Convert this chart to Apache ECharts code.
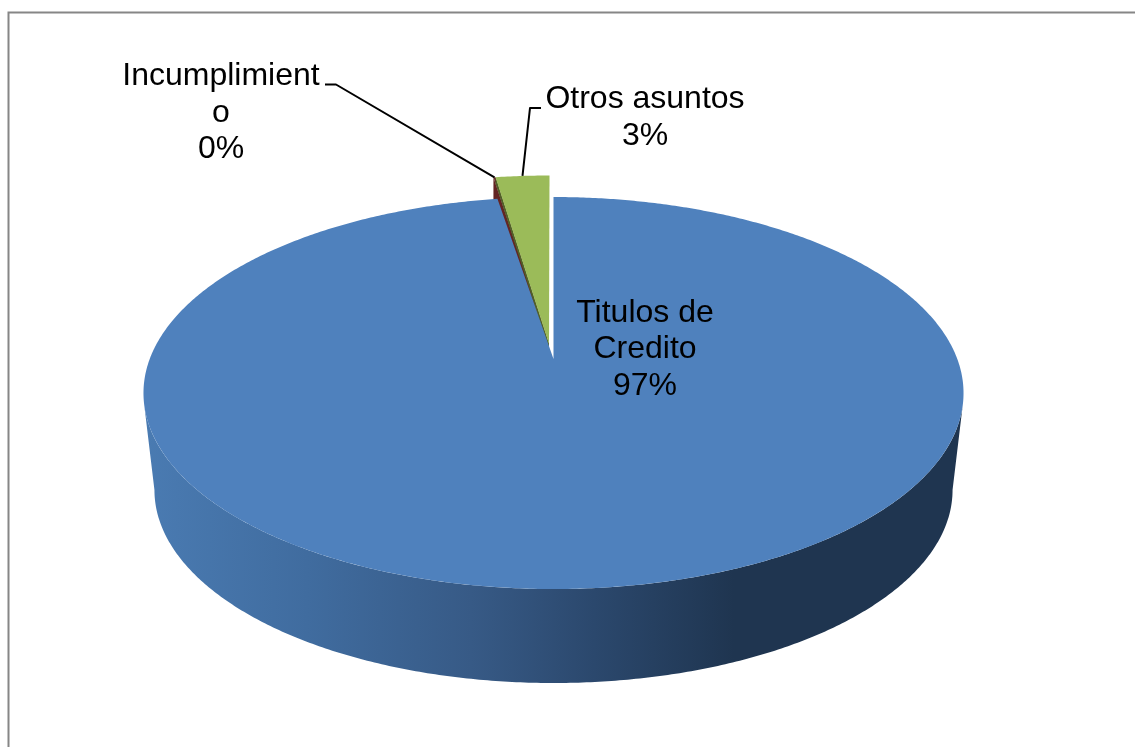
<!DOCTYPE html>
<html><head><meta charset="utf-8">
<style>html,body{margin:0;padding:0;background:#fff;overflow:hidden}#c{width:1135px;height:747px}</style>
<script src="https://cdn.jsdelivr.net/npm/echarts@6/dist/echarts.min.js"></script>
</head><body><div id="c"></div>
<script>
const categories = ['Titulos de\nCredito', 'Incumplimient\no', 'Otros asuntos'];
const values = [97.4, 0.1, 2.5];
const colors = ['#4f81bd', '#632523', '#9bbb59'];
const sideColors = ['#1f3550', '#632523', '#4f6228'];

const k = 0.1736;
const topRing = {cx: 553.5, ay: 359, A: 403.8, B: 190.1};
const botRing = {cx: 553.5, ay: 456.5, A: 393, B: 187.2};
function project(ring, deg) {
  const t = deg * Math.PI / 180, u = Math.sin(t), v = -Math.cos(t), w = 1 - k * v;
  return [ring.cx + ring.A * u / w, ring.ay + ring.B * v / w];
}
function arc(ring, a, b, off) {
  const pts = [], n = Math.max(2, Math.ceil(Math.abs(b - a) / 0.5));
  for (let i = 0; i <= n; i++) {
    const p = project(ring, a + (b - a) * i / n);
    pts.push(off ? [p[0] + off[0], p[1] + off[1]] : p);
  }
  return pts;
}
const total = values.reduce((s, v) => s + v, 0);
const starts = values.map((v, i) => values.slice(0, i).reduce((s, x) => s + x, 0) / total * 360);
const off = [-4, -21.5];
const exApex = [549, 344];
const labelPos = [[645, 349.5], [221, 113], [645, 117.5]];
const knees = [null, [[325, 84.5], [336, 84.5]], [[541, 108], [530, 108]]];

function renderItem(params, api) {
  const i = params.dataIndex, val = api.value(0);
  const a0 = starts[i], a1 = a0 + val / total * 360, mid = (a0 + a1) / 2;
  const kids = [];
  if (i === 0) {
    const wall = arc(botRing, 100, 260).concat(arc(topRing, 257, 103));
    kids.push({type: 'polygon', z2: 1, shape: {points: wall}, style: {
      fill: new echarts.graphic.LinearGradient(143, 0, 964, 0, [
        {offset: 0, color: '#4a7bb2'}, {offset: 0.2, color: '#406c9f'},
        {offset: 0.4, color: '#375a86'}, {offset: 0.55, color: '#2b486d'},
        {offset: 0.72, color: '#1f3550'}, {offset: 1, color: '#1f3550'}], true)}});
    kids.push({type: 'polygon', z2: 6, shape: {points: [[topRing.cx, topRing.ay]].concat(arc(topRing, a0, a1))},
      style: {fill: colors[0]}});
  } else {
    const outer = arc(topRing, a0, a1, off);
    const left = outer[0], d = i === 1 ? 26 : 6;
    kids.push({type: 'polygon', z2: i === 1 ? 2 : 3, shape: {points: [exApex, left, [left[0], left[1] + d], [exApex[0], exApex[1] + d]]},
      style: {fill: sideColors[i]}});
    kids.push({type: 'polygon', z2: i === 1 ? 3 : 4, shape: {points: [exApex].concat(outer)}, style: {fill: colors[i]}});
    const a = project(topRing, mid);
    kids.push({type: 'polyline', z2: 7, shape: {points: knees[i].concat([[a[0] + off[0], a[1] + off[1]]])},
      style: {fill: null, stroke: '#000', lineWidth: 2, lineJoin: 'round'}});
  }
  const pct = Math.round(val / total * 100) + '%';
  kids.push({type: 'text', z2: 8, style: {
    text: categories[i] + '\n' + pct, x: labelPos[i][0], y: labelPos[i][1],
    align: 'center', verticalAlign: 'middle', fill: '#000',
    font: '32px "Liberation Sans", Arial, sans-serif', lineHeight: 36.5}});
  return {type: 'group', children: kids};
}

const chart = echarts.init(document.getElementById('c'), null, {renderer: 'canvas'});
chart.setOption({
  animation: false,
  backgroundColor: '#fff',
  graphic: [{type: 'polyline', silent: true, shape: {points: [[8.5, 760], [8.5, 12.5], [1150, 12.5]]},
    style: {fill: null, stroke: '#868686', lineWidth: 2}}],
  series: [{type: 'custom', coordinateSystem: 'none', renderItem, data: values.map(v => [v]), silent: true}]
});
</script></body></html>
